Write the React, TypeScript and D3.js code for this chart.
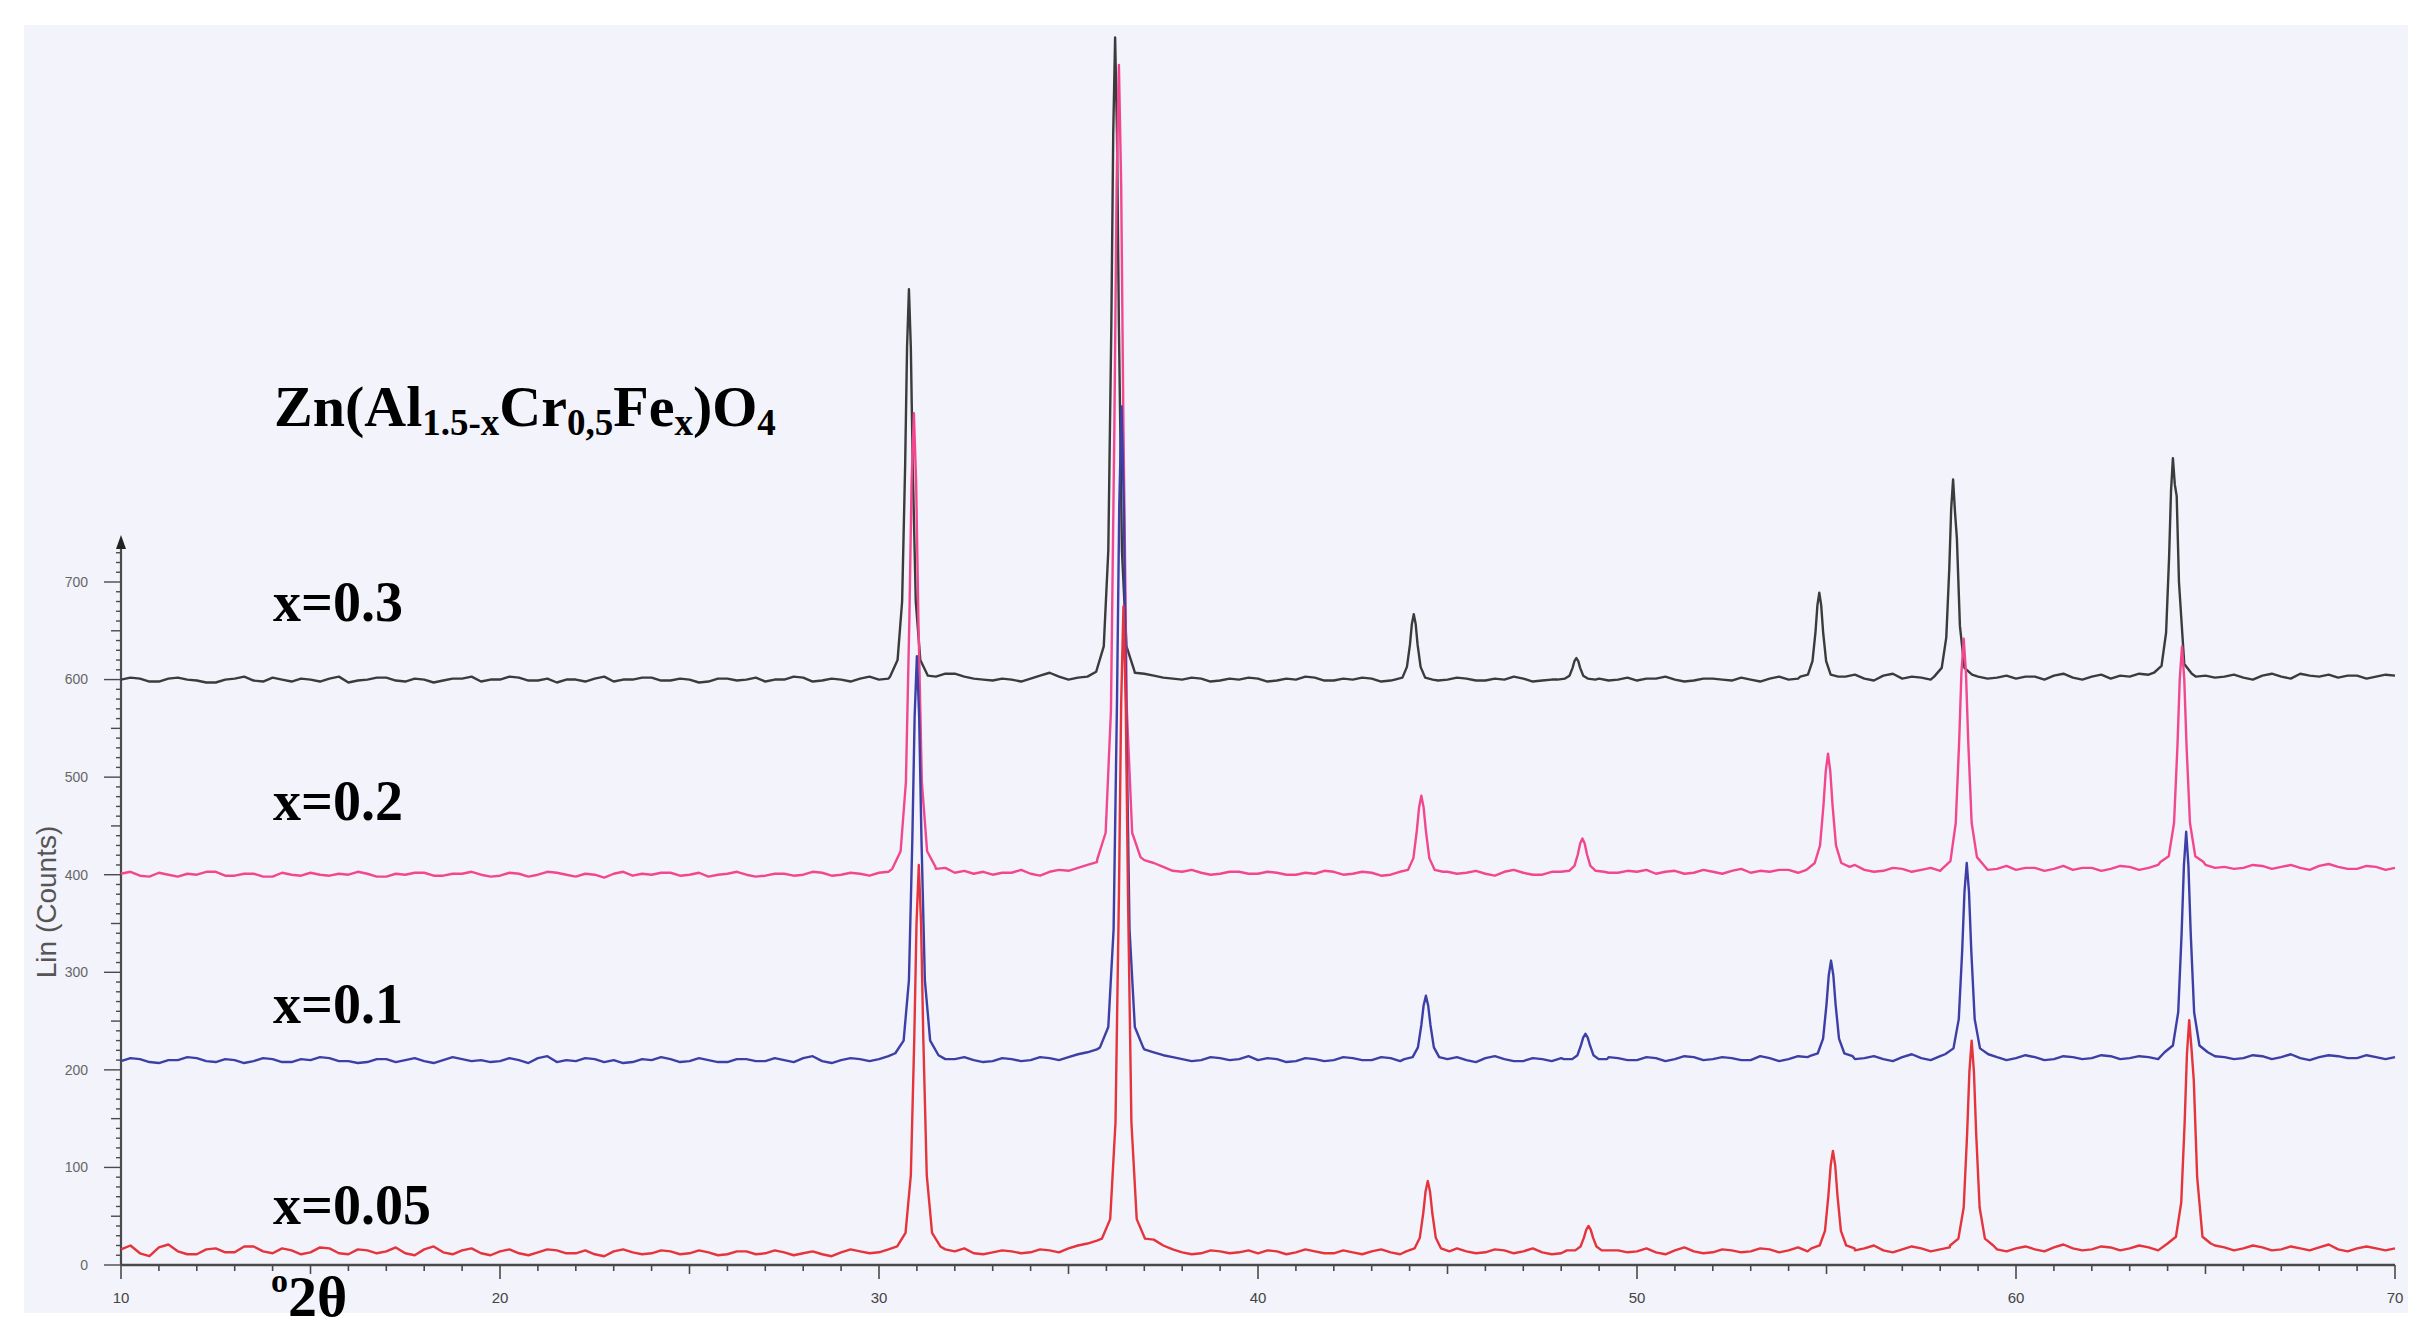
import React from "react";
import * as d3 from "d3";

// ---------- DATA ----------
const xDomain = [10, 70];
const yDomain = [0, 700];
const yAxisTop = 740;
const xTickValues = [10, 20, 30, 40, 50, 60, 70];
const yTickValues = [0, 100, 200, 300, 400, 500, 600, 700];

const seriesNames = ["x=0.3", "x=0.2", "x=0.1", "x=0.05"];
const titleMain = ["Zn(Al", "Cr", "Fe", ")O"];
const titleSubs = ["1.5-x", "0,5", "x", "4"];
const yAxisTitle = "Lin (Counts)";

// baseline samples: 2θ = 10, 10.25, 10.5, ... 70 (one row = 5°)
const baseStart = 10;
const baseStep = 0.25;

const base_x03 = [
  600, 602, 601, 598, 598, 601, 602, 600, 599, 597, 597, 600, 601, 603, 599, 598, 602, 600, 598, 601,
  600, 598, 601, 603, 597, 599, 600, 602, 602, 599, 598, 601, 600, 597, 599, 601, 601, 603, 598, 600,
  600, 603, 602, 599, 599, 601, 597, 600, 600, 598, 601, 603, 598, 600, 600, 602, 602, 599, 599, 601,
  600, 597, 598, 601, 601, 599, 600, 602, 598, 600, 600, 603, 602, 598, 599, 601, 600, 598, 601, 603,
  600, 601, 602, 600, 600, 599, 603, 606, 606, 603, 601, 600, 599, 601, 600, 598, 601, 604, 607, 603,
  600, 602, 603, 606, 605, 607, 608, 607, 606, 604, 602, 601, 600, 602, 601, 598, 599, 601, 600, 602,
  601, 598, 599, 601, 600, 603, 602, 599, 599, 601, 600, 602, 601, 598, 599, 601, 600, 603, 601, 599,
  600, 602, 601, 599, 599, 601, 600, 603, 601, 598, 599, 600, 600, 602, 601, 599, 601, 599, 600, 602,
  599, 601, 601, 603, 600, 598, 599, 601, 601, 600, 599, 602, 600, 598, 601, 603, 600, 601, 602, 604,
  603, 601, 603, 605, 601, 599, 604, 606, 601, 603, 602, 600, 603, 604, 604, 602, 603, 601, 602, 604,
  601, 603, 603, 600, 604, 606, 602, 600, 603, 605, 601, 604, 603, 606, 605, 603, 604, 606, 605, 603,
  604, 602, 603, 605, 602, 600, 604, 606, 603, 601, 606, 604, 603, 605, 602, 604, 604, 601, 603, 605,
  604,
];
const base_x02 = [
  401, 403, 399, 398, 402, 400, 398, 401, 400, 403, 403, 399, 399, 401, 401, 398, 398, 402, 400, 399,
  402, 400, 399, 401, 400, 403, 401, 398, 398, 401, 400, 402, 402, 399, 399, 401, 401, 403, 400, 398,
  399, 402, 401, 398, 400, 403, 402, 400, 398, 401, 400, 397, 401, 403, 399, 401, 400, 402, 402, 399,
  400, 402, 398, 400, 401, 403, 400, 398, 399, 401, 401, 399, 400, 403, 402, 399, 400, 402, 401, 399,
  402, 403, 404, 406, 405, 403, 406, 407, 402, 404, 401, 403, 400, 402, 402, 405, 401, 399, 403, 405,
  404, 407, 410, 413, 414, 416, 418, 420, 415, 412, 408, 404, 403, 405, 402, 400, 401, 403, 403, 401,
  401, 403, 402, 400, 400, 402, 401, 404, 403, 400, 401, 403, 402, 399, 400, 403, 402, 400, 401, 403,
  403, 401, 402, 404, 401, 399, 403, 405, 402, 400, 400, 403, 402, 405, 403, 401, 404, 402, 402, 404,
  403, 405, 401, 403, 404, 401, 402, 405, 403, 401, 404, 406, 402, 404, 403, 405, 405, 402, 404, 406,
  406, 404, 408, 410, 405, 403, 404, 407, 406, 403, 405, 407, 404, 402, 406, 408, 407, 405, 406, 409,
  405, 407, 407, 404, 406, 409, 405, 407, 407, 404, 406, 409, 408, 405, 407, 410, 406, 408, 408, 405,
  410, 407, 408, 406, 407, 410, 409, 406, 408, 410, 407, 405, 409, 411, 408, 406, 406, 409, 408, 405,
  407,
];
const base_x01 = [
  209, 212, 211, 208, 207, 210, 210, 213, 212, 209, 208, 211, 210, 207, 209, 212, 211, 208, 208, 211,
  210, 213, 212, 209, 209, 207, 208, 211, 211, 208, 210, 212, 209, 207, 210, 213, 211, 209, 210, 208,
  209, 212, 210, 207, 212, 214, 208, 210, 209, 212, 211, 208, 210, 207, 208, 211, 210, 213, 211, 208,
  209, 212, 210, 208, 208, 211, 211, 209, 209, 212, 210, 208, 212, 214, 209, 207, 210, 212, 211, 209,
  211, 214, 213, 210, 212, 215, 214, 211, 211, 213, 210, 208, 209, 212, 211, 209, 210, 213, 212, 210,
  213, 216, 218, 221, 222, 224, 224, 226, 221, 218, 215, 213, 211, 209, 210, 213, 212, 210, 211, 214,
  210, 212, 211, 208, 209, 212, 211, 209, 210, 213, 212, 210, 210, 213, 212, 209, 212, 214, 211, 209,
  211, 213, 210, 208, 212, 214, 211, 209, 209, 212, 211, 209, 212, 214, 210, 208, 211, 213, 212, 210,
  210, 213, 212, 209, 211, 214, 213, 210, 211, 213, 212, 210, 210, 214, 212, 209, 211, 214, 213, 211,
  212, 215, 214, 211, 212, 214, 211, 209, 213, 216, 212, 210, 214, 215, 213, 211, 212, 215, 213, 210,
  212, 215, 213, 210, 211, 214, 213, 211, 212, 215, 214, 211, 212, 214, 213, 211, 214, 216, 213, 211,
  216, 214, 213, 211, 212, 215, 214, 211, 213, 216, 212, 210, 213, 215, 214, 212, 212, 215, 213, 211,
  213,
];
const base_x005 = [
  16, 20, 12, 9, 18, 21, 14, 11, 11, 16, 17, 13, 13, 19, 19, 14, 12, 17, 15, 11,
  13, 18, 17, 12, 11, 16, 15, 12, 14, 18, 12, 10, 16, 19, 13, 11, 15, 17, 12, 10,
  14, 16, 12, 10, 13, 16, 15, 12, 12, 15, 11, 9, 14, 16, 13, 11, 12, 15, 14, 11,
  12, 15, 13, 10, 11, 14, 14, 11, 12, 15, 13, 10, 12, 14, 11, 9, 13, 16, 14, 12,
  13, 16, 16, 13, 17, 20, 19, 16, 14, 17, 12, 11, 13, 15, 14, 12, 13, 16, 15, 13,
  17, 20, 22, 25, 28, 31, 30, 32, 22, 26, 20, 16, 13, 11, 12, 15, 14, 12, 13, 15,
  12, 15, 14, 11, 13, 16, 14, 12, 12, 15, 13, 11, 14, 16, 13, 11, 14, 16, 13, 12,
  15, 17, 14, 12, 13, 16, 15, 12, 14, 17, 13, 11, 12, 15, 14, 12, 13, 16, 15, 13,
  14, 17, 13, 11, 15, 18, 14, 12, 13, 16, 15, 13, 14, 17, 16, 13, 15, 18, 14, 12,
  16, 19, 18, 15, 17, 20, 15, 13, 16, 19, 17, 14, 16, 18, 18, 15, 17, 20, 16, 14,
  17, 19, 16, 14, 18, 21, 17, 15, 16, 19, 18, 15, 17, 20, 18, 15, 17, 20, 19, 16,
  22, 20, 18, 15, 17, 20, 18, 15, 16, 19, 17, 15, 18, 21, 16, 14, 17, 19, 17, 15,
  17,
];

// reflection profiles: [2θ, counts]
const peaks_x03 = [
  [[30.29, 603], [30.49, 620], [30.61, 680], [30.69, 820], [30.74, 940], [30.79, 1000], [30.84, 940], [30.89, 820], [30.97, 680], [31.09, 620], [31.29, 604]],
  [[35.73, 608], [35.93, 634], [36.05, 732], [36.13, 962], [36.18, 1159], [36.23, 1258], [36.28, 1159], [36.33, 962], [36.41, 732], [36.53, 634], [36.73, 610]],
  [[43.61, 600], [43.81, 602], [43.93, 613], [44.01, 636], [44.06, 657], [44.11, 667], [44.16, 657], [44.21, 636], [44.29, 613], [44.41, 602], [44.61, 600]],
  [[47.9, 600], [48.1, 601], [48.22, 604], [48.3, 612], [48.35, 619], [48.4, 622], [48.45, 619], [48.5, 612], [48.58, 604], [48.7, 601], [48.9, 600]],
  [[54.31, 603], [54.51, 605], [54.63, 619], [54.71, 649], [54.76, 676], [54.81, 689], [54.86, 676], [54.91, 649], [54.99, 619], [55.11, 605], [55.31, 603]],
  [[57.84, 603], [58.04, 612], [58.16, 643], [58.24, 714], [58.29, 775], [58.34, 805], [58.39, 772], [58.44, 745], [58.52, 655], [58.64, 612], [58.84, 605]],
  [[63.64, 607], [63.84, 614], [63.96, 648], [64.04, 726], [64.09, 793], [64.14, 827], [64.19, 800], [64.24, 788], [64.3, 700], [64.44, 616], [64.64, 606]],
];
const peaks_x02 = [
  [[30.35, 406], [30.57, 424], [30.71, 495], [30.8, 660], [30.86, 802], [30.92, 873], [30.98, 802], [31.04, 660], [31.13, 495], [31.27, 424], [31.49, 408]],
  [[35.76, 416], [35.98, 443], [36.12, 568], [36.21, 857], [36.27, 1106], [36.33, 1230], [36.39, 1106], [36.45, 857], [36.54, 568], [36.68, 443], [36.9, 418]],
  [[43.74, 403], [43.96, 405], [44.1, 417], [44.19, 445], [44.25, 469], [44.31, 481], [44.37, 469], [44.43, 445], [44.52, 417], [44.66, 405], [44.88, 403]],
  [[47.99, 403], [48.21, 404], [48.35, 409], [48.44, 421], [48.5, 432], [48.56, 437], [48.62, 432], [48.68, 421], [48.77, 409], [48.91, 404], [49.13, 403]],
  [[54.47, 405], [54.69, 412], [54.83, 430], [54.92, 471], [54.98, 506], [55.04, 524], [55.1, 506], [55.16, 471], [55.25, 430], [55.39, 412], [55.61, 408]],
  [[58.05, 406], [58.27, 414], [58.41, 453], [58.5, 536], [58.56, 607], [58.62, 642], [58.68, 607], [58.74, 536], [58.83, 453], [58.97, 418], [59.19, 408]],
  [[63.81, 413], [64.03, 419], [64.17, 453], [64.26, 532], [64.32, 600], [64.38, 634], [64.44, 600], [64.5, 532], [64.59, 453], [64.73, 419], [64.95, 413]],
];
const peaks_x01 = [
  [[30.43, 217], [30.65, 230], [30.79, 292], [30.88, 437], [30.94, 562], [31.0, 624], [31.06, 562], [31.12, 437], [31.21, 292], [31.35, 230], [31.57, 215]],
  [[35.83, 223], [36.05, 244], [36.19, 344], [36.28, 579], [36.34, 780], [36.4, 880], [36.46, 780], [36.52, 579], [36.61, 344], [36.75, 244], [36.97, 223]],
  [[43.86, 211], [44.08, 213], [44.22, 223], [44.31, 246], [44.37, 266], [44.43, 276], [44.49, 266], [44.55, 246], [44.64, 223], [44.78, 213], [45.0, 211]],
  [[48.07, 211], [48.29, 211], [48.43, 215], [48.52, 225], [48.58, 233], [48.64, 237], [48.7, 233], [48.76, 225], [48.85, 215], [48.99, 211], [49.21, 211]],
  [[54.55, 214], [54.77, 217], [54.91, 232], [55.0, 267], [55.06, 297], [55.12, 312], [55.18, 297], [55.24, 267], [55.33, 232], [55.47, 217], [55.69, 214]],
  [[58.13, 216], [58.35, 222], [58.49, 252], [58.58, 322], [58.64, 382], [58.7, 412], [58.76, 382], [58.82, 322], [58.91, 252], [59.05, 222], [59.27, 216]],
  [[63.92, 218], [64.14, 225], [64.28, 259], [64.37, 340], [64.43, 409], [64.49, 444], [64.55, 409], [64.61, 340], [64.7, 259], [64.84, 225], [65.06, 218]],
];
const peaks_x005 = [
  [[30.48, 19], [30.7, 33], [30.84, 92], [30.93, 231], [30.99, 350], [31.05, 410], [31.11, 350], [31.17, 231], [31.26, 92], [31.4, 33], [31.62, 19]],
  [[35.88, 27], [36.1, 47], [36.24, 146], [36.33, 378], [36.39, 576], [36.45, 675], [36.51, 576], [36.57, 378], [36.66, 146], [36.8, 47], [37.02, 27]],
  [[43.91, 14], [44.13, 17], [44.27, 28], [44.36, 53], [44.42, 75], [44.48, 86], [44.54, 75], [44.6, 53], [44.69, 28], [44.83, 17], [45.05, 14]],
  [[48.15, 15], [48.37, 15], [48.51, 19], [48.6, 28], [48.66, 36], [48.72, 40], [48.78, 36], [48.84, 28], [48.93, 19], [49.07, 15], [49.29, 15]],
  [[54.6, 17], [54.82, 20], [54.96, 35], [55.05, 71], [55.11, 102], [55.17, 117], [55.23, 102], [55.29, 71], [55.38, 35], [55.52, 20], [55.74, 17]],
  [[58.26, 20], [58.48, 27], [58.62, 59], [58.71, 134], [58.77, 198], [58.83, 230], [58.89, 198], [58.95, 134], [59.04, 59], [59.18, 27], [59.4, 20]],
  [[64.0, 22], [64.22, 29], [64.36, 64], [64.45, 146], [64.51, 216], [64.57, 251], [64.63, 222], [64.69, 190], [64.78, 90], [64.92, 29], [65.14, 22]],
];

// ---------- STYLE / LAYOUT ----------
const W = 2428;
const H = 1342;
const plotLeft = 121;
const plotRight = 2395;
const plotBottom = 1265;
const y700 = 582;
const colors = ["#3b3b3b", "#f2478f", "#3d3fa6", "#e5343c"];
const labelBaselines = [621, 820, 1023, 1224];
const serif = "'Liberation Serif', 'Times New Roman', serif";
const sans = "'Liberation Sans', Arial, sans-serif";

function buildSeries(base: number[], peaks: number[][][]) {
  const windows = peaks.map((p) => [p[0][0], p[p.length - 1][0]]);
  const pts: [number, number][] = [];
  base.forEach((v, i) => {
    const x = baseStart + i * baseStep;
    if (!windows.some(([a, b]) => x >= a && x <= b)) pts.push([x, v]);
  });
  peaks.forEach((p) => p.forEach((q) => pts.push([q[0], q[1]])));
  pts.sort((a, b) => a[0] - b[0]);
  return pts;
}

export default function App() {
  const xS = d3.scaleLinear().domain(xDomain).range([plotLeft, plotRight]);
  const yS = d3.scaleLinear().domain(yDomain).range([plotBottom, y700]);
  const line = d3
    .line<[number, number]>()
    .x((d) => xS(d[0]))
    .y((d) => yS(d[1]))
    .curve(d3.curveLinear);

  const allSeries = [
    buildSeries(base_x03, peaks_x03),
    buildSeries(base_x02, peaks_x02),
    buildSeries(base_x01, peaks_x01),
    buildSeries(base_x005, peaks_x005),
  ];

  const xMinor = d3.range(xDomain[0], xDomain[1] + 0.001, 1);
  const yMinor = d3.range(0, yAxisTop, 10);
  const axisColor = "#4a4a4a";
  const yTop = yS(yAxisTop);

  return (
    <div style={{ position: "absolute", left: 0, top: 0, width: W, height: H, overflow: "hidden", background: "#fff" }}>
      <svg width={W} height={H} viewBox={`0 0 ${W} ${H}`}>
        <rect x={0} y={0} width={W} height={H} fill="#ffffff" />
        <rect x={24} y={25} width={2384} height={1288} fill="#f3f3fb" />

        {/* y axis */}
        <line x1={plotLeft} x2={plotLeft} y1={plotBottom} y2={yTop + 4} stroke={axisColor} strokeWidth={2.2} />
        <path d={`M${plotLeft},${yTop - 8} L${plotLeft - 5},${yTop + 6} L${plotLeft + 5},${yTop + 6} Z`} fill="#222" />
        {yMinor.map((v) => {
          const len = v % 100 === 0 ? 17 : v % 50 === 0 ? 10 : 5;
          return (
            <line key={"ym" + v} x1={plotLeft - len} x2={plotLeft} y1={yS(v)} y2={yS(v)} stroke={axisColor} strokeWidth={1.4} />
          );
        })}
        {yTickValues.map((v) => (
          <text key={"yl" + v} x={88} y={yS(v)} dy="0.35em" textAnchor="end" fontFamily={sans} fontSize={14} fill="#666">
            {v}
          </text>
        ))}
        <text
          transform={`translate(46, 902) rotate(-90)`}
          textAnchor="middle"
          dy="0.35em"
          fontFamily={sans}
          fontSize={28}
          fill="#555"
        >
          {yAxisTitle}
        </text>

        {/* x axis */}
        <line x1={plotLeft} x2={plotRight} y1={plotBottom} y2={plotBottom} stroke={axisColor} strokeWidth={2.6} />
        {xMinor.map((v) => {
          const len = v % 10 === 0 ? 14 : v % 5 === 0 ? 9 : 6;
          return (
            <line key={"xm" + v} x1={xS(v)} x2={xS(v)} y1={plotBottom} y2={plotBottom + len} stroke={axisColor} strokeWidth={1.6} />
          );
        })}
        {xTickValues.map((v) => (
          <text key={"xl" + v} x={xS(v)} y={1303} textAnchor="middle" fontFamily={sans} fontSize={15} fill="#444">
            {v}
          </text>
        ))}

        {/* patterns */}
        {allSeries.map((s, i) => (
          <path key={"s" + i} d={line(s) || ""} fill="none" stroke={colors[i]} strokeWidth={2.4} strokeLinejoin="round" />
        ))}

        {/* labels */}
        {seriesNames.map((n, i) => (
          <text key={"n" + i} x={273} y={labelBaselines[i]} fontFamily={serif} fontWeight="bold" fontSize={56} fill="#000">
            {n}
          </text>
        ))}
        <text x={274} y={426} fontFamily={serif} fontWeight="bold" fontSize={58} fill="#000">
          {titleMain[0]}
          <tspan fontSize={37} dy={9}>{titleSubs[0]}</tspan>
          <tspan dy={-9}>{titleMain[1]}</tspan>
          <tspan fontSize={37} dy={9}>{titleSubs[1]}</tspan>
          <tspan dy={-9}>{titleMain[2]}</tspan>
          <tspan fontSize={37} dy={9}>{titleSubs[2]}</tspan>
          <tspan dy={-9}>{titleMain[3]}</tspan>
          <tspan fontSize={37} dy={9}>{titleSubs[3]}</tspan>
        </text>
        <text x={271} y={1316} fontFamily={serif} fontWeight="bold" fontSize={58} fill="#000">
          <tspan fontSize={34} dy={-24}>o</tspan>
          <tspan dy={24}>2θ</tspan>
        </text>
      </svg>
    </div>
  );
}
